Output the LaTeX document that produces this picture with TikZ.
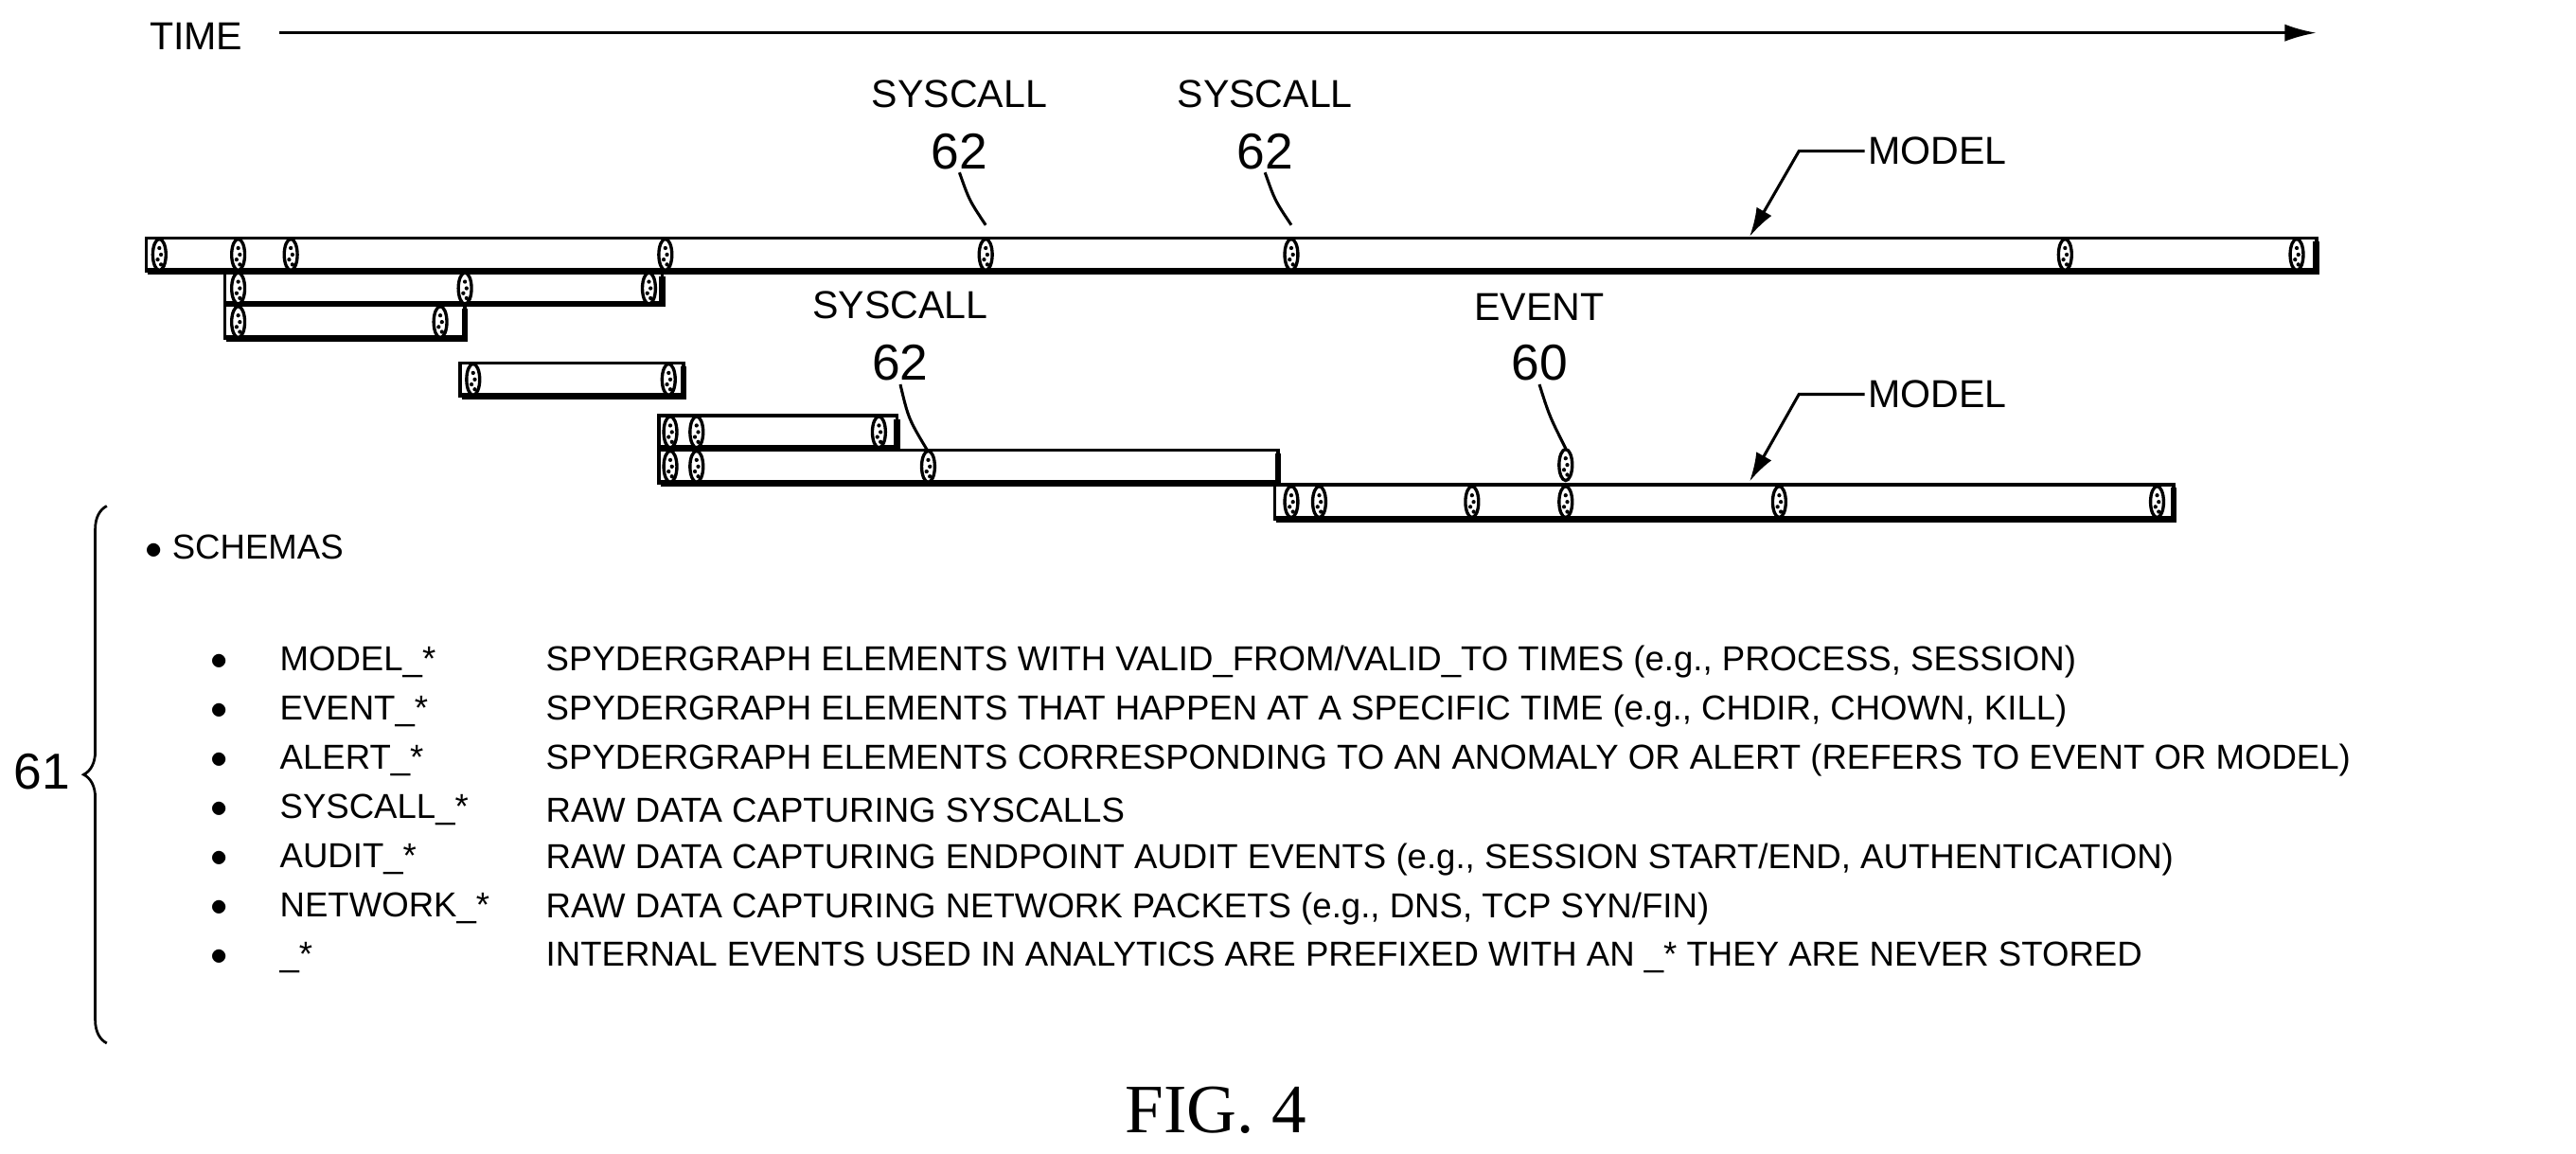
\documentclass[tikz,border=0pt]{standalone}
\usepackage{fontspec}
\setmainfont{Liberation Sans}
\newfontfamily\figfont{Liberation Serif}
\usetikzlibrary{arrows.meta,decorations.pathreplacing}

% cylinder end cap at (x,y)
\newcommand\capend[2]{%
  \draw [fill=white, line width=1.1pt] (#1,#2) ellipse (4 and 9.5);
  \fill (#1,#2-4) circle (0.7pt) (#1+1,#2) circle (0.7pt) (#1-1,#2+3) circle (0.7pt) (#1+1,#2+6) circle (0.7pt);}
% time bar from x1 to x2, top y1, bottom y2, caps at list
\newcommand\tbar[5]{%
  \draw [line width=1.1pt] (#1,#3) rectangle (#2,#4);
  \draw [line width=2.2pt] (#1+1,#4) -- (#2,#4) -- (#2,#3+2);
  \pgfmathsetmacro\cmid{(#3+#4)/2}
  \foreach \cx in {#5} { \capend{\cx}{\cmid} }}

\tikzset{
  lbl/.style={font=\fontsize{13.5}{14}\selectfont, inner sep=1pt},
  num/.style={font=\fontsize{17.5}{18}\selectfont, inner sep=1pt},
  txt/.style={font=\fontsize{12}{13}\selectfont, anchor=west, inner sep=0pt},
  lead/.style={line width=1pt}
}

\begin{document}
\begin{tikzpicture}[x=0.02cm,y=-0.02cm]
  \useasboundingbox (0,0) rectangle (1568,702);

  \node [lbl, anchor=west] (time) at (89,22) { TIME };
  \coordinate (tend) at (1410,20);
  \draw [line width=1pt, -{Latex[length=11pt,width=6pt]}] (170,20) -- (tend);

  \tbar{89}{1410}{145}{165}{97,145,177,405,600,786,1257,1398}
  \tbar{137}{403}{166}{185}{145,283,395}
  \tbar{137}{283}{186}{206}{145,268}
  \tbar{280}{416}{221}{241}{288,407}
  \tbar{401}{546}{253}{273}{408,424,535}
  \tbar{401}{778}{274}{294}{408,424,565}
  \tbar{776}{1323}{295}{316}{786,803,896,953,1083,1313}
  \capend{953}{283}

  % labels
  \node [lbl] (sc1) at (584,57) { SYSCALL };
  \node [num] (n1) at (584,92) { 62 };
  \coordinate (e1) at (600,137);
  \draw [lead] (n1.south) .. controls (590,122) .. (e1);

  \node [lbl] (sc2) at (770,57) { SYSCALL };
  \node [num] (n2) at (770,92) { 62 };
  \coordinate (e2) at (786,137);
  \draw [lead] (n2.south) .. controls (776,122) .. (e2);

  \node [lbl] (sc3) at (548,186) { SYSCALL };
  \node [num] (n3) at (548,221) { 62 };
  \coordinate (e3) at (565,275);
  \draw [lead] (n3.south) .. controls (553,255) .. (e3);

  \node [lbl] (ev) at (937,187) { EVENT };
  \node [num] (n4) at (937,221) { 60 };
  \coordinate (e4) at (953,273);
  \draw [lead] (n4.south) .. controls (943,253) .. (e4);

  \node [lbl, anchor=west] (m1) at (1135,92) { MODEL };
  \coordinate (m1a) at (1095,92);
  \coordinate (m1b) at (1065,144);
  \draw [lead, -{Latex[length=10pt,width=6pt]}] (m1.west) -- (m1a) -- (m1b);

  \node [lbl, anchor=west] (m2) at (1135,240) { MODEL };
  \coordinate (m2a) at (1095,240);
  \coordinate (m2b) at (1065,293);
  \draw [lead, -{Latex[length=10pt,width=6pt]}] (m2.west) -- (m2a) -- (m2b);

  % schemas
  \node [txt] (schemas) at (88,333) { $\bullet$ SCHEMAS };
  \foreach \y/\pre/\desc in {
    403/{MODEL\_*}/{SPYDERGRAPH ELEMENTS WITH VALID\_FROM/VALID\_TO TIMES (e.g., PROCESS, SESSION)},
    433/{EVENT\_*}/{SPYDERGRAPH ELEMENTS THAT HAPPEN AT A SPECIFIC TIME (e.g., CHDIR, CHOWN, KILL)},
    463/{ALERT\_*}/{SPYDERGRAPH ELEMENTS CORRESPONDING TO AN ANOMALY OR ALERT (REFERS TO EVENT OR MODEL)},
    493/{SYSCALL\_*}/{RAW DATA CAPTURING SYSCALLS},
    523/{AUDIT\_*}/{RAW DATA CAPTURING ENDPOINT AUDIT EVENTS (e.g., SESSION START/END, AUTHENTICATION)},
    553/{NETWORK\_*}/{RAW DATA CAPTURING NETWORK PACKETS (e.g., DNS, TCP SYN/FIN)},
    583/{\_*}/{INTERNAL EVENTS USED IN ANALYTICS ARE PREFIXED WITH AN \_* THEY ARE NEVER STORED}} {
    \node [txt] at (128,\y) { $\bullet$ };
    \node [txt] at (170,\y) { \pre };
    \node [txt] at (332,\y) { \desc };
  }

  \coordinate (bt) at (65,308);
  \coordinate (bb) at (65,635);
  \draw [line width=0.9pt, decorate, decoration={brace, amplitude=8pt}] (bb) -- (bt);
  \node [txt] (n61) at (8,470) { \fontsize{17.5}{18}\selectfont 61 };

  \node [font=\figfont\fontsize{24}{26}\selectfont] (fig) at (740,676) { FIG. 4 };
\end{tikzpicture}
\end{document}
